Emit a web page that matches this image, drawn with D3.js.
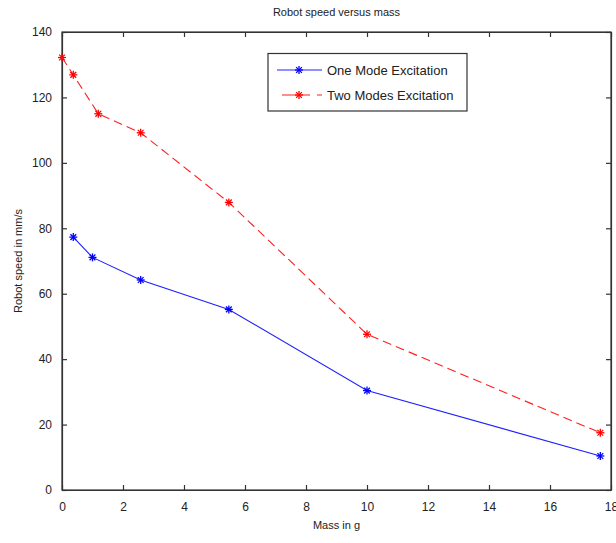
<!DOCTYPE html>
<html><head><meta charset="utf-8">
<script src="https://cdn.jsdelivr.net/npm/d3@7"></script>
<style>body{margin:0;background:#fff}text{font-family:"Liberation Sans",Arial,sans-serif;fill:#222}</style>
</head><body><svg id="c" width="616" height="543"></svg>
<script>
const massOne = [0.37, 1.0, 2.58, 5.47, 10.0, 17.65];
const speedOne = [77.3, 71.1, 64.2, 55.2, 30.4, 10.4];
const massTwo = [0.0, 0.37, 1.19, 2.58, 5.47, 10.0, 17.65];
const speedTwo = [132.2, 126.9, 115.0, 109.2, 87.9, 47.6, 17.5];
const xTicks = [0,2,4,6,8,10,12,14,16,18];
const yTicks = [0,20,40,60,80,100,120,140];
const seriesNames = ["One Mode Excitation", "Two Modes Excitation"];

const svg = d3.select("#c");
const L=62, R=611, T=32, B=490;
const x = d3.scaleLinear().domain([0,18]).range([L,R]);
const y = d3.scaleLinear().domain([0,140]).range([B,T]);
const axCol="#333";

svg.append("rect").attr("x",L).attr("y",T).attr("width",R-L).attr("height",B-T)
  .attr("fill","none").attr("stroke",axCol).attr("stroke-width",1.2);

const gx = svg.append("g").attr("transform",`translate(0,${B})`)
  .call(d3.axisBottom(x).tickValues(xTicks).tickSizeInner(-5).tickSizeOuter(0).tickPadding(12));
const gxt = svg.append("g").attr("transform",`translate(0,${T})`)
  .call(d3.axisTop(x).tickValues(xTicks).tickSizeInner(-5).tickSizeOuter(0).tickFormat(""));
const gy = svg.append("g").attr("transform",`translate(${L},0)`)
  .call(d3.axisLeft(y).tickValues(yTicks).tickSizeInner(-5).tickSizeOuter(0).tickPadding(10));
const gyr = svg.append("g").attr("transform",`translate(${R},0)`)
  .call(d3.axisRight(y).tickValues(yTicks).tickSizeInner(-5).tickSizeOuter(0).tickFormat(""));
[gx,gxt,gy,gyr].forEach(g=>{
  g.select(".domain").attr("stroke",axCol).attr("stroke-width",1.2);
  g.selectAll(".tick line").attr("stroke",axCol).attr("stroke-width",1.2);
  g.selectAll("text").attr("font-size",12).attr("fill","#222").attr("font-family","Liberation Sans, Arial, sans-serif");
});

function star(g, cx, cy, col){
  const s=4;
  const p = g.append("g").attr("stroke",col).attr("stroke-width",1.3);
  p.append("line").attr("x1",cx-s).attr("x2",cx+s).attr("y1",cy).attr("y2",cy);
  p.append("line").attr("x1",cx).attr("x2",cx).attr("y1",cy-s).attr("y2",cy+s);
  const d=s*0.72;
  p.append("line").attr("x1",cx-d).attr("x2",cx+d).attr("y1",cy-d).attr("y2",cy+d);
  p.append("line").attr("x1",cx-d).attr("x2",cx+d).attr("y1",cy+d).attr("y2",cy-d);
}

const line = d3.line().x(d=>x(d[0])).y(d=>y(d[1]));
const one = massOne.map((m,i)=>[m,speedOne[i]]);
const two = massTwo.map((m,i)=>[m,speedTwo[i]]);
svg.append("path").attr("d",line(two)).attr("fill","none").attr("stroke","#ff2020")
  .attr("stroke-width",1.1).attr("stroke-dasharray","9,5");
svg.append("path").attr("d",line(one)).attr("fill","none").attr("stroke","#2020ff").attr("stroke-width",1.1);
const mk = svg.append("g");
two.forEach(d=>star(mk,x(d[0]),y(d[1]),"#ff0000"));
one.forEach(d=>star(mk,x(d[0]),y(d[1]),"#0000ff"));

const lg = svg.append("g");
lg.append("rect").attr("x",268).attr("y",53.5).attr("width",199).attr("height",57.5)
  .attr("fill","#fff").attr("stroke",axCol).attr("stroke-width",1.2);
lg.append("line").attr("x1",277).attr("x2",322).attr("y1",70).attr("y2",70).attr("stroke","#2020ff").attr("stroke-width",1.1);
star(lg,299,70,"#0000ff");
lg.append("line").attr("x1",282).attr("x2",322).attr("y1",95).attr("y2",95).attr("stroke","#ff2020")
  .attr("stroke-width",1.1).attr("stroke-dasharray","28,7");
star(lg,299,95,"#ff0000");
lg.append("text").attr("x",327).attr("y",75).attr("font-size",13).text(seriesNames[0]);
lg.append("text").attr("x",327).attr("y",100).attr("font-size",13).text(seriesNames[1]);

svg.append("text").attr("x",(L+R)/2).attr("y",16).attr("text-anchor","middle").attr("font-size",11).text("Robot speed versus mass");
svg.append("text").attr("x",(L+R)/2).attr("y",529).attr("text-anchor","middle").attr("font-size",11).text("Mass in g");
svg.append("text").attr("transform",`translate(22,${(T+B)/2}) rotate(-90)`).attr("text-anchor","middle").attr("font-size",11).text("Robot speed in mm/s");
</script></body></html>
